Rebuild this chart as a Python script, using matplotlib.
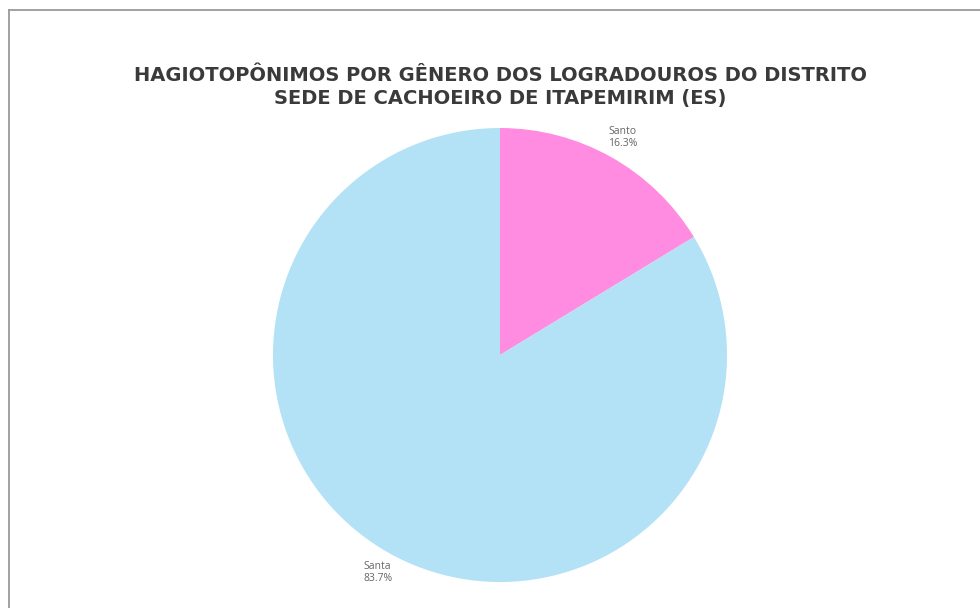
import matplotlib
matplotlib.use("Agg")
import matplotlib.pyplot as plt
from matplotlib.lines import Line2D

categories = ["Santo", "Santa"]
percentages = [16.3, 83.7]
colors = ["#FF8CE0", "#B3E1F5"]
title = "HAGIOTOPÔNIMOS POR GÊNERO DOS LOGRADOUROS DO DISTRITO\nSEDE DE CACHOEIRO DE ITAPEMIRIM (ES)"

W, H = 980, 608
fig = plt.figure(figsize=(W / 100, H / 100), dpi=100)
fig.patch.set_facecolor("white")

# border lines (top and left)
fig.add_artist(Line2D([8.5 / W, 1.0], [1 - 9.5 / H, 1 - 9.5 / H], color="#9a9a9a", lw=1.3))
fig.add_artist(Line2D([8.5 / W, 8.5 / W], [0, 1 - 9.5 / H], color="#9a9a9a", lw=1.3))

cx, cy, r = 500, 355, 227
ax = fig.add_axes([(cx - r) / W, (H - cy - r) / H, 2 * r / W, 2 * r / H])
labels = [f"{c}\n{p:.1f}%" for c, p in zip(categories, percentages)]
wedges, texts = ax.pie(percentages, colors=colors, startangle=90, counterclock=False,
                       labels=labels, labeldistance=1.1, radius=1,
                       textprops=dict(fontsize=7.5, color="#666666", family="Open Sans"))
for t in texts:
    t.set_horizontalalignment("center")
    t.set_verticalalignment("center")
    t.set_linespacing(1.2)
ax.set_xlim(-1, 1)
ax.set_ylim(-1, 1)
ax.set_aspect("auto")
ax.axis("off")

fig.text(500 / W, 1 - 87 / H, title, ha="center", va="center", fontsize=14,
         fontweight="bold", color="#3a3a3a", family="DejaVu Sans", linespacing=1.3)

fig.savefig("out.png", dpi=100, facecolor="white")
